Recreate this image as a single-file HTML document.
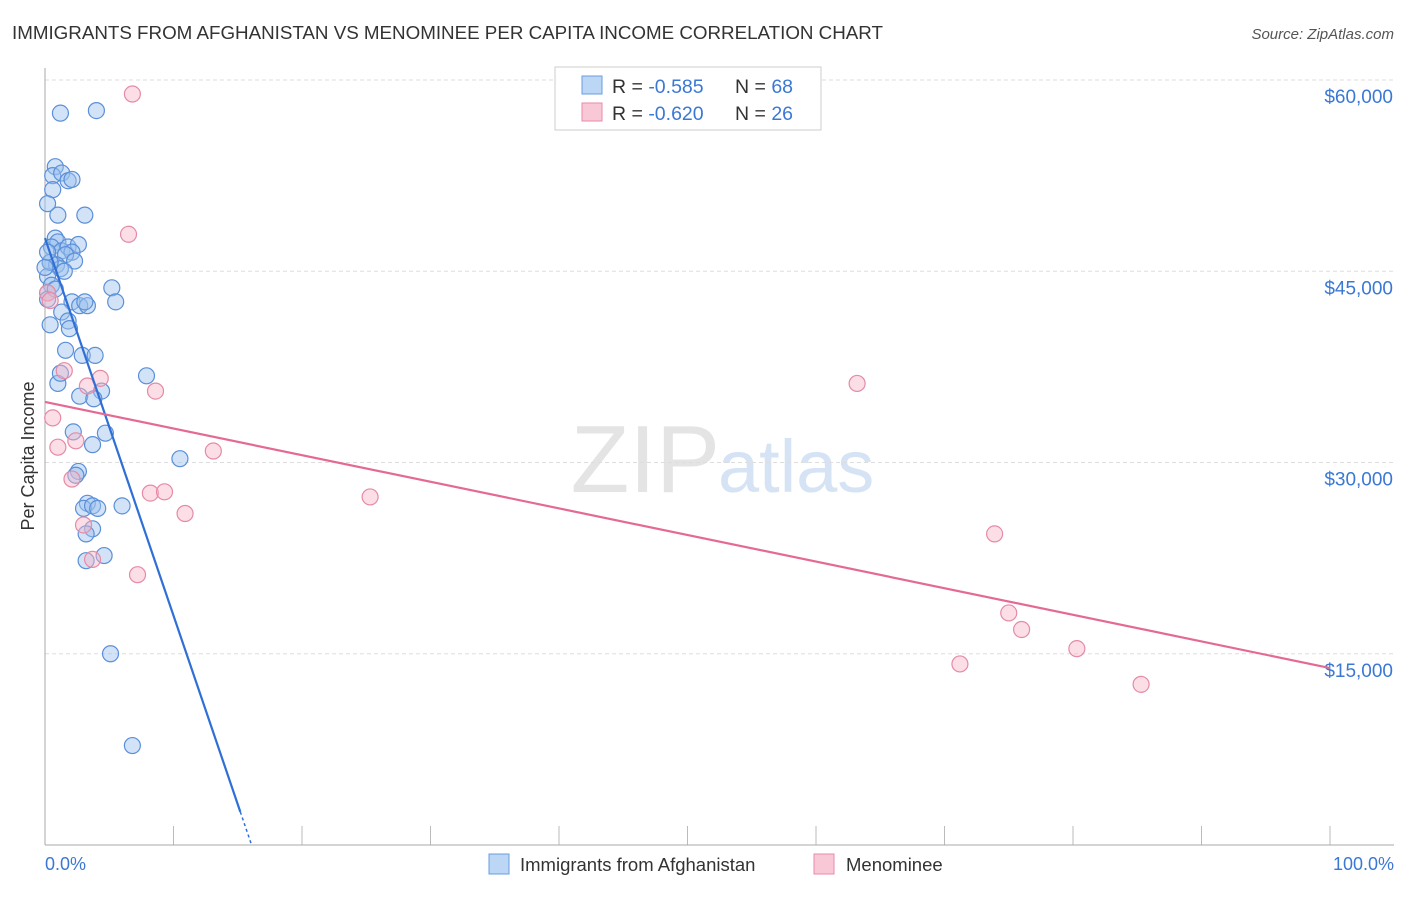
<!DOCTYPE html>
<html><head><meta charset="utf-8"><style>
body{margin:0;background:#fff;font-family:"Liberation Sans",sans-serif}
svg text{font-family:"Liberation Sans",sans-serif}
</style></head><body>
<svg id="c" width="1406" height="892">
<text x="12" y="39" font-size="18.8" fill="#333" textLength="871">IMMIGRANTS FROM AFGHANISTAN VS MENOMINEE PER CAPITA INCOME CORRELATION CHART</text>
<text x="1394" y="39" font-size="15" fill="#555" text-anchor="end" font-style="italic">Source: ZipAtlas.com</text>
<text x="720" y="492" font-size="96" fill="#e4e4e4" text-anchor="end" font-family="Liberation Serif">ZIP</text>
<text x="718" y="492" font-size="74" fill="#d5e3f5">atlas</text>
<g id="grid"></g>
<line x1="45" y1="68" x2="45" y2="845" stroke="#aaa"/>
<line x1="45" y1="845" x2="1394" y2="845" stroke="#aaa"/>
<text transform="translate(34,456) rotate(-90)" font-size="18" fill="#333" text-anchor="middle">Per Capita Income</text>
<text x="45" y="870" font-size="18" fill="#3a78d4">0.0%</text>
<text x="1394" y="870" font-size="18" fill="#3a78d4" text-anchor="end">100.0%</text>
<g id="pts"></g><g id="lines"></g>
<g>
<rect x="555" y="67" width="266" height="63" fill="#fff" stroke="#ccc"/>
<rect x="582" y="76" width="20" height="18" fill="#bcd6f6" stroke="#6a9ce0"/>
<text x="612" y="93" font-size="19.5" fill="#333">R = <tspan fill="#3a78d4">-0.585</tspan></text>
<text x="735" y="93" font-size="19.5" fill="#333">N = <tspan fill="#3a78d4">68</tspan></text>
<rect x="582" y="103" width="20" height="18" fill="#f8c8d6" stroke="#e88aa8"/>
<text x="612" y="120" font-size="19.5" fill="#333">R = <tspan fill="#3a78d4">-0.620</tspan></text>
<text x="735" y="120" font-size="19.5" fill="#333">N = <tspan fill="#3a78d4">26</tspan></text>
</g>
<g><rect x="489" y="854" width="20" height="20" fill="#bcd6f6" stroke="#6a9ce0"/><text x="520" y="871" font-size="18.5" fill="#333">Immigrants from Afghanistan</text></g>
<g><rect x="814" y="854" width="20" height="20" fill="#f8c8d6" stroke="#e88aa8"/><text x="846" y="871" font-size="18.5" fill="#333">Menominee</text></g>
</svg>
<script>
const yTicks=[15000,30000,45000,60000];
const yTickLabels=["$15,000","$30,000","$45,000","$60,000"];
const blueX=[1.2,4,0.8,0.6,1.3,1.8,2.1,0.6,0.2,1,3.1,0.8,1,0.5,1.3,1.8,2.6,2.1,1.6,2.3,0.4,0.9,1.2,1.5,0.2,0.5,0.2,5.2,5.5,2.1,2.7,3.3,3.1,1.3,1.8,1.9,0.4,1.6,2.9,3.9,1,1.2,7.9,4.4,2.7,3.8,2.2,4.7,3.7,10.5,2.6,2.4,3.3,3,3.7,4.1,6,3.7,3.2,4.6,3.2,5.1,6.8,0.4,0.2,0.8,0,0.2];
const blueY=[57400,57600,53200,52500,52700,52100,52200,51400,50300,49400,49400,47600,47300,46900,46600,46900,47100,46500,46300,45800,45700,45500,45200,45000,44600,43900,43300,43700,42600,42600,42300,42300,42600,41800,41100,40500,40800,38800,38400,38400,36200,37000,36800,35600,35200,35000,32400,32300,31400,30300,29300,29000,26800,26400,26600,26400,26600,24800,24400,22700,22300,15000,7800,45700,42800,43600,45300,46500];
const pinkX=[6.8,6.5,0.2,0.4,1.5,3.3,4.3,8.6,0.6,1,2.4,13.1,2.1,8.2,9.3,10.9,25.3,3,3.7,7.2,63.2,73.9,75,76,80.3,71.2,85.3];
const pinkY=[58900,47900,43300,42700,37200,36000,36600,35600,33500,31200,31700,30900,28700,27600,27700,26000,27300,25100,22400,21200,36200,24400,18200,16900,15400,14200,12600];
const blueFit=[[0,47600],[15.2,2600]];
const pinkFit=[[0,34750],[100,13880]];
const X=v=>45+v*12.85, Y=v=>845-v*765/60000;
const NS="http://www.w3.org/2000/svg";
const grid=document.getElementById('grid');
yTicks.forEach((t,i)=>{
 const l=document.createElementNS(NS,'line');
 
 
 l.setAttribute('x1',45);l.setAttribute('x2',1394);l.setAttribute('y1',Y(t));l.setAttribute('y2',Y(t));
 l.setAttribute('stroke','#ddd');l.setAttribute('stroke-dasharray','4,3');grid.appendChild(l);
 const tx=document.createElementNS(NS,'text');
 
 
 tx.setAttribute('x',1393);tx.setAttribute('y',Y(t)+23);tx.setAttribute('text-anchor','end');
 tx.setAttribute('font-size','19');tx.setAttribute('fill','#3a78d4');tx.textContent=yTickLabels[i];grid.appendChild(tx);
});
for(let i=0;i<=10;i++){
 const l=document.createElementNS(NS,'line');
 
 
 l.setAttribute('x1',X(i*10));l.setAttribute('x2',X(i*10));l.setAttribute('y1',826);l.setAttribute('y2',845);
 l.setAttribute('stroke','#bbb');grid.appendChild(l);
}
const pts=document.getElementById('pts');
function dots(xs,ys,fill,stroke,name){xs.forEach((x,i)=>{
 const c=document.createElementNS(NS,'circle');
 
 
 c.setAttribute('cx',X(x));c.setAttribute('cy',Y(ys[i]));c.setAttribute('r',8);
 c.setAttribute('fill',fill);c.setAttribute('fill-opacity','0.45');c.setAttribute('stroke',stroke);c.setAttribute('stroke-width','1.2');pts.appendChild(c);});}
dots(blueX,blueY,'#9cc0ee','#5b8fd9','afghanistan-point');
dots(pinkX,pinkY,'#f6b6c8','#e68aa6','menominee-point');
const lines=document.getElementById('lines');
function fit(f,col,name){
 const l=document.createElementNS(NS,'line');
 
 
 l.setAttribute('x1',X(f[0][0]));l.setAttribute('y1',Y(f[0][1]));l.setAttribute('x2',X(f[1][0]));l.setAttribute('y2',Y(f[1][1]));
 l.setAttribute('stroke',col);l.setAttribute('stroke-width','2.2');lines.appendChild(l);}
fit(blueFit,'#2f6fd6','afghanistan-trendline');
fit(pinkFit,'#e46a93','menominee-trendline');
const sl=(blueFit[1][1]-blueFit[0][1])/(blueFit[1][0]-blueFit[0][0]);
const xe=blueFit[0][0]-blueFit[0][1]/sl;
const d=document.createElementNS(NS,'line');


d.setAttribute('x1',X(blueFit[1][0]));d.setAttribute('y1',Y(blueFit[1][1]));d.setAttribute('x2',X(xe));d.setAttribute('y2',Y(0));
d.setAttribute('stroke','#2f6fd6');d.setAttribute('stroke-width','1.5');d.setAttribute('stroke-dasharray','3,3');lines.appendChild(d);
</script>
</body></html>
